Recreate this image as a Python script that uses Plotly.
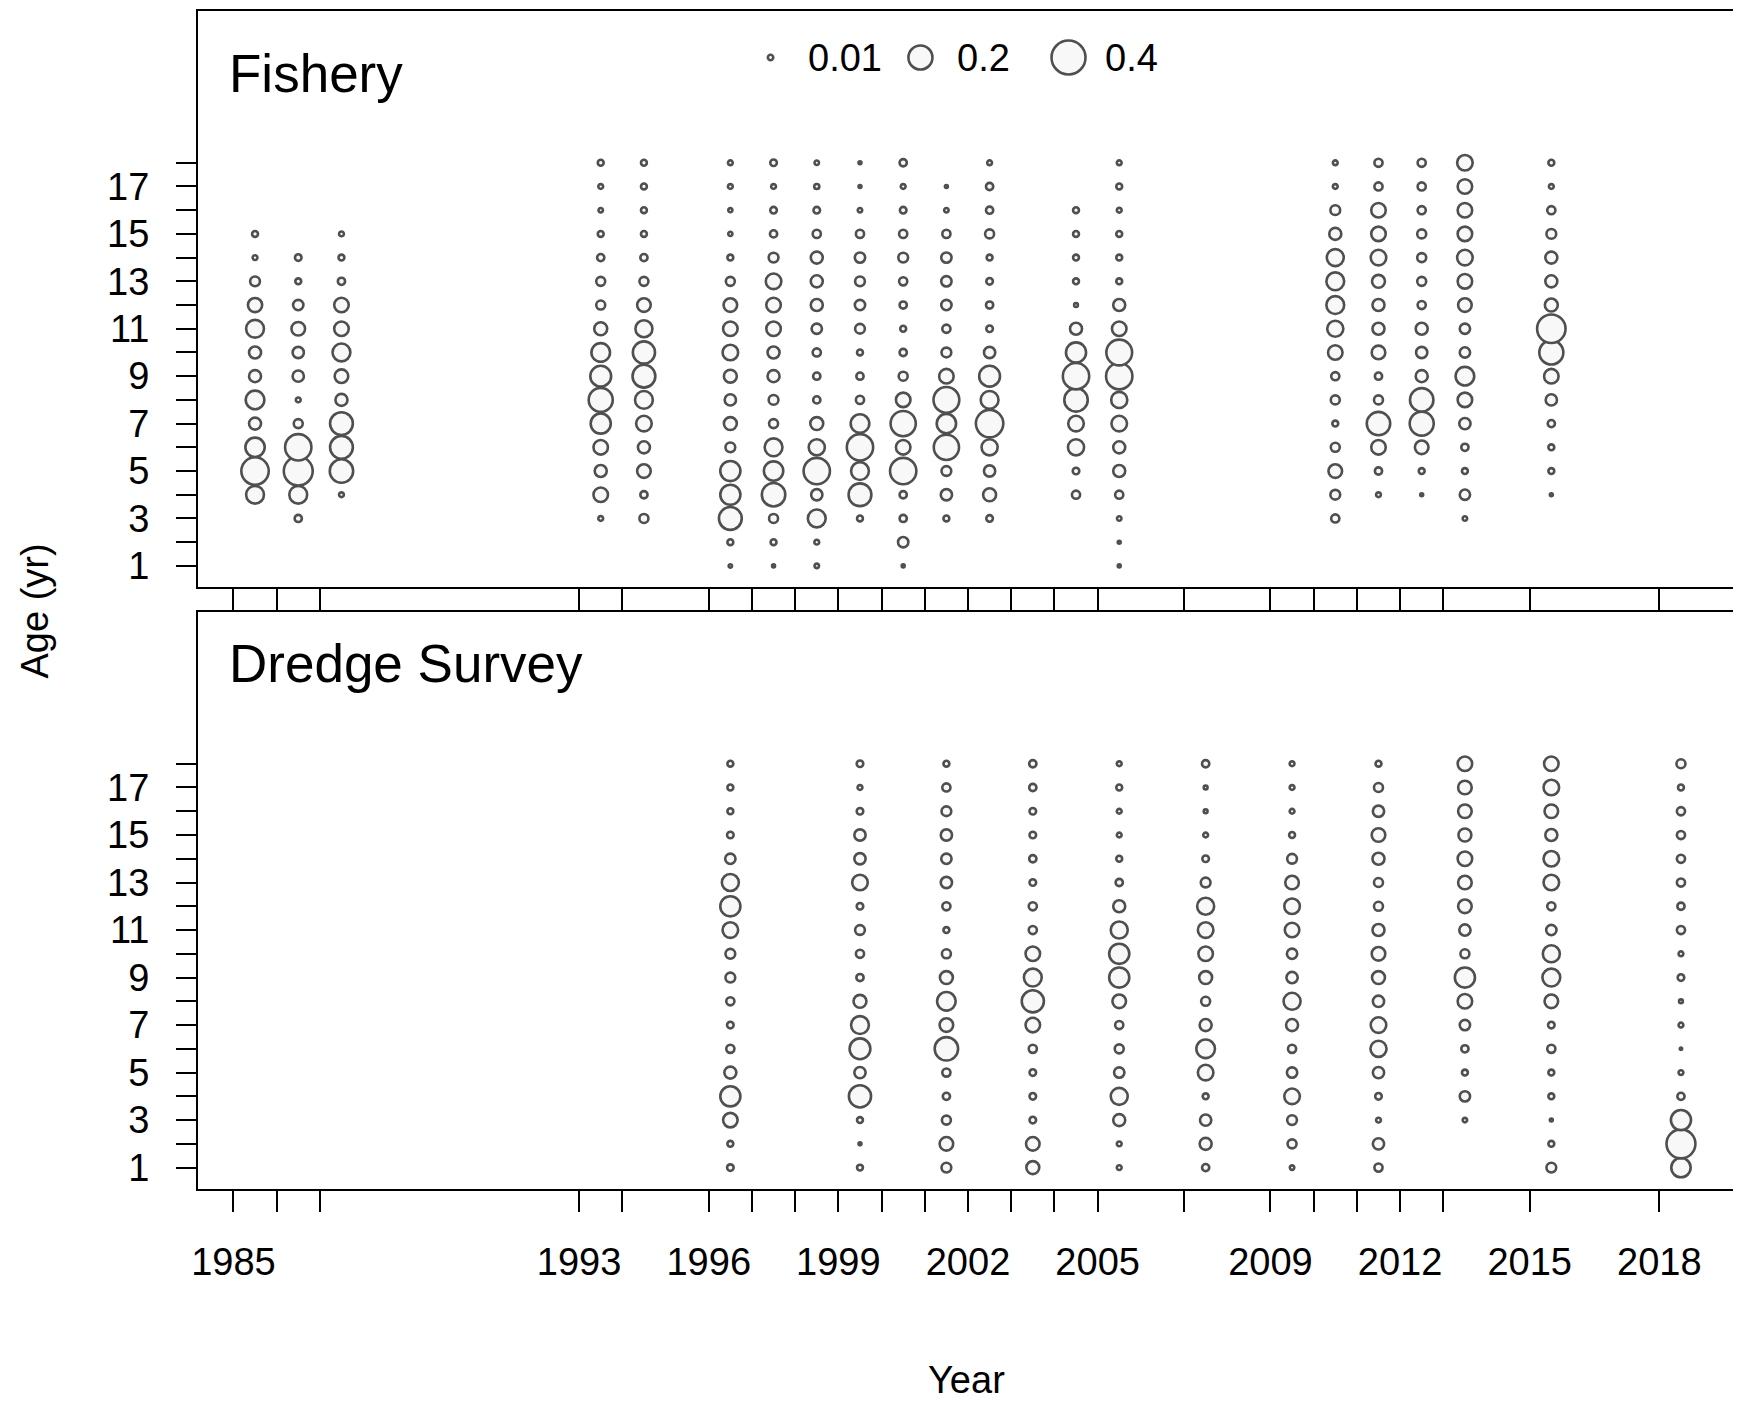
import math
import plotly.graph_objects as go

N = None
AGES = list(range(1, 19))

# ---------------- Fishery: proportion at age 1..18 by year ----------------
fishery_years = [1985, 1986, 1987, 1993, 1994, 1996, 1997, 1998, 1999, 2000,
                 2001, 2002, 2004, 2005, 2010, 2011, 2012, 2013, 2015]
fishery_1985 = [N, N, N, 0.11, 0.26, 0.13, 0.05, 0.12, 0.05, 0.05, 0.11, 0.07, 0.033, 0.008, 0.012, N, N, N]
fishery_1986 = [N, N, 0.018, 0.11, 0.29, 0.24, 0.028, 0.008, 0.044, 0.044, 0.064, 0.037, 0.012, 0.015, N, N, N, N]
fishery_1987 = [N, N, N, 0.008, 0.19, 0.18, 0.18, 0.05, 0.064, 0.11, 0.073, 0.073, 0.018, 0.012, 0.008, N, N, N]
fishery_1993 = [N, N, 0.008, 0.073, 0.05, 0.073, 0.14, 0.2, 0.15, 0.12, 0.058, 0.028, 0.028, 0.018, 0.012, 0.007, 0.008, 0.012]
fishery_1994 = [N, N, 0.028, 0.018, 0.064, 0.05, 0.084, 0.11, 0.18, 0.17, 0.10, 0.064, 0.028, 0.018, 0.012, 0.012, 0.012, 0.012]
fishery_1996 = [0.004, 0.012, 0.18, 0.14, 0.14, 0.033, 0.058, 0.044, 0.058, 0.084, 0.073, 0.064, 0.028, 0.012, 0.006, 0.006, 0.008, 0.008]
fishery_1997 = [0.003, 0.012, 0.028, 0.19, 0.13, 0.11, 0.028, 0.033, 0.05, 0.05, 0.073, 0.073, 0.084, 0.033, 0.018, 0.015, 0.008, 0.015]
fishery_1998 = [0.007, 0.008, 0.11, 0.044, 0.24, 0.09, 0.058, 0.018, 0.018, 0.023, 0.037, 0.05, 0.05, 0.05, 0.023, 0.015, 0.009, 0.007]
fishery_1999 = [N, N, 0.012, 0.18, 0.11, 0.24, 0.12, 0.023, 0.018, 0.012, 0.033, 0.037, 0.033, 0.037, 0.023, 0.007, 0.003, 0.003]
fishery_2000 = [0.003, 0.037, 0.018, 0.018, 0.24, 0.073, 0.22, 0.073, 0.028, 0.018, 0.012, 0.018, 0.023, 0.033, 0.023, 0.015, 0.008, 0.018]
fishery_2001 = [N, N, 0.012, 0.044, 0.033, 0.22, 0.13, 0.23, 0.073, 0.033, 0.023, 0.037, 0.037, 0.037, 0.023, 0.007, 0.003, N]
fishery_2002 = [N, N, 0.015, 0.058, 0.044, 0.09, 0.26, 0.11, 0.15, 0.044, 0.015, 0.018, 0.015, 0.012, 0.028, 0.018, 0.018, 0.008]
fishery_2004 = [N, N, N, 0.023, 0.015, 0.09, 0.084, 0.19, 0.24, 0.14, 0.05, 0.005, 0.012, 0.012, 0.012, 0.012, N, N]
fishery_2005 = [0.003, 0.003, 0.007, 0.023, 0.05, 0.05, 0.084, 0.09, 0.24, 0.23, 0.073, 0.05, 0.012, 0.012, 0.012, 0.008, 0.012, 0.008]
fishery_2010 = [N, N, 0.023, 0.033, 0.064, 0.028, 0.012, 0.028, 0.023, 0.073, 0.09, 0.11, 0.11, 0.10, 0.05, 0.033, 0.008, 0.008]
fishery_2011 = [N, N, N, 0.008, 0.018, 0.073, 0.19, 0.028, 0.018, 0.064, 0.05, 0.05, 0.058, 0.084, 0.073, 0.073, 0.023, 0.023]
fishery_2012 = [N, N, N, 0.003, 0.012, 0.064, 0.20, 0.19, 0.05, 0.044, 0.05, 0.023, 0.028, 0.028, 0.028, 0.023, 0.023, 0.023]
fishery_2013 = [N, N, 0.007, 0.037, 0.012, 0.018, 0.044, 0.073, 0.12, 0.037, 0.037, 0.064, 0.073, 0.084, 0.073, 0.073, 0.073, 0.084]
fishery_2015 = [N, N, N, 0.003, 0.012, 0.012, 0.018, 0.044, 0.073, 0.20, 0.28, 0.058, 0.05, 0.05, 0.033, 0.023, 0.008, 0.012]
fishery_props = [fishery_1985, fishery_1986, fishery_1987, fishery_1993, fishery_1994,
                 fishery_1996, fishery_1997, fishery_1998, fishery_1999, fishery_2000,
                 fishery_2001, fishery_2002, fishery_2004, fishery_2005, fishery_2010,
                 fishery_2011, fishery_2012, fishery_2013, fishery_2015]

# ---------------- Dredge survey: proportion at age 1..18 by year ----------------
survey_years = [1996, 1999, 2001, 2003, 2005, 2007, 2009, 2011, 2013, 2015, 2018]
survey_1996 = [0.015, 0.012, 0.073, 0.14, 0.05, 0.023, 0.015, 0.023, 0.033, 0.033, 0.084, 0.14, 0.10, 0.037, 0.015, 0.012, 0.012, 0.012]
survey_1999 = [0.012, 0.003, 0.012, 0.17, 0.044, 0.15, 0.11, 0.058, 0.018, 0.023, 0.033, 0.015, 0.084, 0.044, 0.044, 0.015, 0.008, 0.015]
survey_2001 = [0.033, 0.064, 0.028, 0.018, 0.023, 0.19, 0.064, 0.12, 0.058, 0.028, 0.012, 0.023, 0.044, 0.037, 0.044, 0.033, 0.023, 0.012]
survey_2003 = [0.058, 0.064, 0.015, 0.015, 0.015, 0.023, 0.073, 0.17, 0.11, 0.073, 0.023, 0.023, 0.015, 0.018, 0.015, 0.015, 0.018, 0.018]
survey_2005 = [0.008, 0.008, 0.05, 0.10, 0.037, 0.028, 0.023, 0.064, 0.14, 0.14, 0.10, 0.05, 0.018, 0.012, 0.008, 0.008, 0.012, 0.008]
survey_2007 = [0.018, 0.05, 0.044, 0.012, 0.084, 0.12, 0.05, 0.028, 0.058, 0.073, 0.084, 0.10, 0.033, 0.015, 0.008, 0.005, 0.005, 0.018]
survey_2009 = [0.007, 0.028, 0.033, 0.084, 0.037, 0.023, 0.05, 0.10, 0.044, 0.037, 0.073, 0.084, 0.064, 0.033, 0.012, 0.008, 0.008, 0.008]
survey_2011 = [0.023, 0.044, 0.008, 0.015, 0.044, 0.09, 0.084, 0.044, 0.058, 0.064, 0.05, 0.028, 0.028, 0.05, 0.064, 0.044, 0.028, 0.012]
survey_2013 = [N, N, 0.007, 0.037, 0.012, 0.018, 0.037, 0.073, 0.14, 0.028, 0.044, 0.064, 0.064, 0.073, 0.058, 0.064, 0.064, 0.073]
survey_2015 = [0.033, 0.012, 0.003, 0.012, 0.012, 0.023, 0.015, 0.064, 0.11, 0.10, 0.037, 0.023, 0.084, 0.084, 0.05, 0.064, 0.084, 0.073]
survey_2018 = [0.13, 0.29, 0.14, 0.018, 0.008, 0.002, 0.008, 0.005, 0.015, 0.008, 0.023, 0.018, 0.023, 0.023, 0.023, 0.023, 0.012, 0.028]
survey_props = [survey_1996, survey_1999, survey_2001, survey_2003, survey_2005, survey_2007,
                survey_2009, survey_2011, survey_2013, survey_2015, survey_2018]

# tick labels
labeled_years = [1985, 1993, 1996, 1999, 2002, 2005, 2009, 2012, 2015, 2018]
age_labels = [1, 3, 5, 7, 9, 11, 13, 15, 17]
legend_values = [0.01, 0.2, 0.4]
legend_labels = ["0.01", "0.2", "0.4"]
panel_titles = ["Fishery", "Dredge Survey"]

# ---------------- style / layout constants ----------------
FONT = "Liberation Sans, Arial, sans-serif"
PAGE_W, PAGE_H = 1741, 1402
OFF = 8                      # browser default body margin
FW, FH = PAGE_W - OFF, PAGE_H - OFF
# plot-area edges in page pixels
P_LEFT, P_RIGHT, P_TOP, P_BOTTOM = 197.6, 1738.8, 8.9, 1189.1
TOP_BOTTOM_PX = 586.2        # bottom edge of the upper panel (page px)
BOT_TOP_PX = 610.7           # top edge of the lower panel (page px)
ML = P_LEFT - OFF
MR = PAGE_W - P_RIGHT
MT = P_TOP - OFF
MB = PAGE_H - P_BOTTOM
PW, PH = FW - ML - MR, FH - MT - MB
YEAR_OFFSET = 0.5
MAX_DIAM = 34.0   # marker diameter for a proportion of 0.4
REF_VALUE = 0.4
LINE_COL = "#4f4f4f"
LINE_W = 2.6
FILL_COL = "#F8F8F8"


def diam(v):
    return MAX_DIAM * math.sqrt(v / REF_VALUE)


def px_x(p):   # page px -> paper x
    return (p - P_LEFT) / (P_RIGHT - P_LEFT)


def px_y(p):   # page px -> paper y
    return (P_BOTTOM - p) / (P_BOTTOM - P_TOP)


def bubble_trace(years, props, xa, ya):
    xs, ys, ss = [], [], []
    for yr, col in zip(years, props):
        for age, v in zip(AGES, col):
            if v is None:
                continue
            xs.append(yr + YEAR_OFFSET)
            ys.append(age)
            ss.append(diam(v))
    return go.Scatter(x=xs, y=ys, mode="markers", xaxis=xa, yaxis=ya,
                      marker=dict(size=ss, sizemode="diameter", symbol="circle", opacity=1,
                                  color=FILL_COL, line=dict(color=LINE_COL, width=LINE_W)),
                      hoverinfo="skip", showlegend=False)


fig = go.Figure()
fig.add_trace(bubble_trace(fishery_years, fishery_props, "x", "y"))
fig.add_trace(bubble_trace(survey_years, survey_props, "x2", "y2"))

# legend bubbles in a pixel-space overlay axis over the upper panel
legend_px_x = [770.6, 920.6, 1068.8]
legend_px_y = 55.5
fig.add_trace(go.Scatter(x=legend_px_x, y=[legend_px_y] * 3, mode="markers",
                         xaxis="x3", yaxis="y3",
                         marker=dict(size=[diam(v) for v in legend_values], sizemode="diameter",
                                     opacity=1, color=FILL_COL,
                                     line=dict(color=LINE_COL, width=LINE_W)),
                         hoverinfo="skip", showlegend=False))

tick_years = sorted(set(fishery_years) | set(survey_years))
all_x = [y + YEAR_OFFSET for y in fishery_years + survey_years]
lo, hi = min(all_x), max(all_x)
pad = 0.04 * (hi - lo)
x_range = [lo - pad, hi + pad]
y_range = [0.1, 24.4]

x_ticktext = [str(y) if y in labeled_years else "" for y in tick_years]
y_ticktext = [str(a) if a in age_labels else "" for a in AGES]

axis_common = dict(showgrid=False, zeroline=False, showline=True, linecolor="black",
                   linewidth=2, mirror=True, ticks="outside", tickcolor="black",
                   tickwidth=2, tickfont=dict(family=FONT, size=38, color="black"))

top_dom = [px_y(TOP_BOTTOM_PX), 1]
bot_dom = [0, px_y(BOT_TOP_PX)]

fig.update_layout(
    width=FW, height=FH,
    margin=dict(l=ML, r=MR, t=MT, b=MB, pad=0),
    paper_bgcolor="white", plot_bgcolor="white",
    showlegend=False,
    font=dict(family=FONT, color="black"),
    xaxis=dict(axis_common, range=x_range, tickvals=tick_years,
               ticktext=[""] * len(tick_years), ticklen=21, anchor="y"),
    xaxis2=dict(axis_common, range=x_range, tickvals=tick_years,
                ticktext=x_ticktext, ticklen=21, anchor="y2", ticklabelstandoff=17),
    yaxis=dict(axis_common, domain=top_dom, range=y_range, tickvals=AGES,
               ticktext=y_ticktext, ticklen=20, anchor="x", ticklabelstandoff=19),
    yaxis2=dict(axis_common, domain=bot_dom, range=y_range, tickvals=AGES,
                ticktext=y_ticktext, ticklen=20, anchor="x2", ticklabelstandoff=19),
    xaxis3=dict(overlaying="x", range=[P_LEFT, P_RIGHT], visible=False, anchor="y3"),
    yaxis3=dict(overlaying="y", range=[TOP_BOTTOM_PX, P_TOP], visible=False, anchor="x3"),
)

annotations = []
for title, py in zip(panel_titles, [72, 663]):
    annotations.append(dict(text=title, xref="paper", yref="paper", x=px_x(227), y=px_y(py),
                            xanchor="left", yanchor="middle", showarrow=False,
                            font=dict(family=FONT, size=53, color="black")))
for lab, px in zip(legend_labels, [806, 955, 1103]):
    annotations.append(dict(text=lab, xref="paper", yref="paper", x=px_x(px), y=px_y(legend_px_y),
                            xanchor="left", yanchor="middle", showarrow=False,
                            font=dict(family=FONT, size=38, color="black")))
annotations.append(dict(text="Year", xref="paper", yref="paper", x=px_x(967), y=px_y(1380),
                        xanchor="center", yanchor="middle", showarrow=False,
                        font=dict(family=FONT, size=38, color="black")))
annotations.append(dict(text="Age (yr)", xref="paper", yref="paper", x=px_x(34), y=px_y(610),
                        xanchor="center", yanchor="middle", showarrow=False, textangle=-90,
                        font=dict(family=FONT, size=38, color="black")))
fig.update_layout(annotations=annotations)

fig.write_html("out.html")
